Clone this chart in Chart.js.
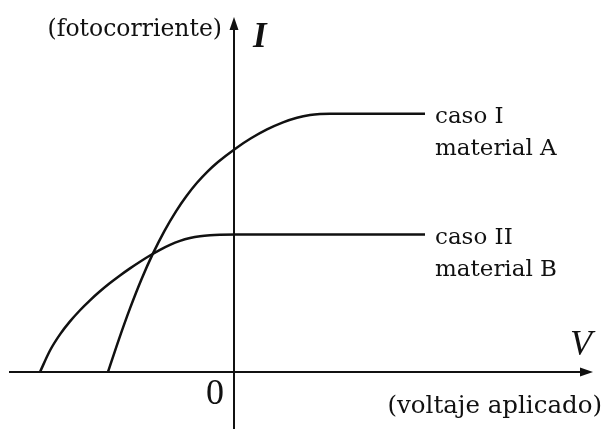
<!DOCTYPE html>
<html>
<head>
<meta charset="utf-8">
<script src="https://cdn.jsdelivr.net/npm/chart.js@4.4.0/dist/chart.umd.min.js"></script>
<style>
  html, body { margin: 0; padding: 0; background: #fff; }
  #wrap { width: 605px; height: 429px; position: relative; }
</style>
</head>
<body>
<div id="wrap"><canvas id="c"></canvas></div>
<script>
// Curve A (caso I, material A)
const V_A = [-2.52, -2.30, -2.08, -1.85, -1.62, -1.39, -1.16, -0.95, -0.74, -0.53, -0.32, 0.02, 0.34, 0.66, 0.98, 1.26, 1.52, 1.72, 1.92, 3.82];
const I_A = [0, 0.658, 1.272, 1.856, 2.372, 2.824, 3.214, 3.52, 3.784, 4.008, 4.2, 4.462, 4.674, 4.852, 4.994, 5.086, 5.14, 5.16, 5.165, 5.165];
// Curve B (caso II, material B)
const V_B = [-3.88, -3.68, -3.48, -3.28, -3.08, -2.88, -2.68, -2.48, -2.28, -2.08, -1.88, -1.68, -1.48, -1.28, -1.08, -0.88, -0.68, -0.48, -0.28, 0.04, 3.82];
const I_B = [0, 0.43, 0.752, 1.012, 1.235, 1.434, 1.614, 1.779, 1.931, 2.073, 2.206, 2.33, 2.444, 2.543, 2.622, 2.679, 2.716, 2.736, 2.745, 2.748, 2.748];
// Labels
const SERIES_LABELS = [["caso I", "material A"], ["caso II", "material B"]];
const Y_AXIS_LABEL = "(fotocorriente)";
const Y_AXIS_SYMBOL = "I";
const X_AXIS_LABEL = "(voltaje aplicado)";
const X_AXIS_SYMBOL = "V";
const ORIGIN_LABEL = "0";
// Axis extents (data units)
const X_AXIS_RANGE = [-4.5, 7.18];
const Y_AXIS_RANGE = [-1.2, 7.1];

const toPts = (xs, ys) => xs.map((x, i) => ({ x: x, y: ys[i] }));

const ink = '#111';

const axesPlugin = {
  id: 'axesPlugin',
  beforeDatasetsDraw(chart) {
    const ctx = chart.ctx;
    const xs = chart.scales.x, ys = chart.scales.y;
    const ox = xs.getPixelForValue(0), oy = ys.getPixelForValue(0);
    const x0 = xs.getPixelForValue(X_AXIS_RANGE[0]), x1 = xs.getPixelForValue(X_AXIS_RANGE[1]);
    const y0 = ys.getPixelForValue(Y_AXIS_RANGE[0]), y1 = ys.getPixelForValue(Y_AXIS_RANGE[1]);
    ctx.save();
    ctx.strokeStyle = ink; ctx.fillStyle = ink; ctx.lineWidth = 2;
    // horizontal axis
    ctx.beginPath(); ctx.moveTo(x0, oy); ctx.lineTo(x1 - 6, oy); ctx.stroke();
    ctx.beginPath(); ctx.moveTo(x1, oy); ctx.lineTo(x1 - 13, oy - 4.5); ctx.lineTo(x1 - 13, oy + 4.5); ctx.closePath(); ctx.fill();
    // vertical axis
    ctx.beginPath(); ctx.moveTo(ox, y0); ctx.lineTo(ox, y1 + 6); ctx.stroke();
    ctx.beginPath(); ctx.moveTo(ox, y1); ctx.lineTo(ox - 4.5, y1 + 13); ctx.lineTo(ox + 4.5, y1 + 13); ctx.closePath(); ctx.fill();
    ctx.restore();
  },
  afterDraw(chart) {
    const ctx = chart.ctx;
    const xs = chart.scales.x, ys = chart.scales.y;
    const ox = xs.getPixelForValue(0), oy = ys.getPixelForValue(0);
    const x1 = xs.getPixelForValue(X_AXIS_RANGE[1]);
    const y1 = ys.getPixelForValue(Y_AXIS_RANGE[1]);
    ctx.save();
    ctx.fillStyle = ink;
    ctx.textBaseline = 'alphabetic';
    // y axis label
    ctx.font = '23.5px "DejaVu Serif"';
    ctx.textAlign = 'right';
    ctx.fillText(Y_AXIS_LABEL, ox - 12, y1 + 19);
    ctx.font = 'italic bold 35px "Liberation Serif"';
    ctx.textAlign = 'left';
    ctx.fillText(Y_AXIS_SYMBOL, ox + 19, y1 + 30);
    // x axis
    ctx.textAlign = 'right';
    ctx.font = 'italic 36px "Liberation Serif"';
    ctx.fillText(X_AXIS_SYMBOL, x1 - 1, oy - 17);
    ctx.font = '24.5px "DejaVu Serif"';
    ctx.fillText(X_AXIS_LABEL, x1 + 9, oy + 41);
    // origin
    ctx.font = '36px "Liberation Serif"';
    ctx.fillText(ORIGIN_LABEL, ox - 10, oy + 32);
    // series labels
    ctx.textAlign = 'left';
    ctx.font = '23px "DejaVu Serif"';
    chart.data.datasets.forEach((ds, i) => {
      const last = ds.data[ds.data.length - 1];
      const px = xs.getPixelForValue(last.x) + 10;
      const py = ys.getPixelForValue(last.y);
      ctx.fillText(SERIES_LABELS[i][0], px, py + 9);
      ctx.fillText(SERIES_LABELS[i][1], px, py + 41);
    });
    ctx.restore();
  }
};

const bgPlugin = {
  id: 'bg',
  beforeDraw(chart) {
    const ctx = chart.ctx;
    ctx.save(); ctx.fillStyle = '#fff'; ctx.fillRect(0, 0, chart.width, chart.height); ctx.restore();
  }
};

new Chart(document.getElementById('c'), {
  type: 'scatter',
  data: {
    datasets: [
      { label: 'caso I material A', data: toPts(V_A, I_A), showLine: true, borderColor: ink, borderWidth: 2.5, pointRadius: 0, cubicInterpolationMode: 'monotone', fill: false },
      { label: 'caso II material B', data: toPts(V_B, I_B), showLine: true, borderColor: ink, borderWidth: 2.5, pointRadius: 0, cubicInterpolationMode: 'monotone', fill: false }
    ]
  },
  options: {
    responsive: true,
    maintainAspectRatio: false,
    animation: false,
    layout: { padding: 0 },
    plugins: { legend: { display: false }, tooltip: { enabled: false } },
    scales: {
      x: { type: 'linear', min: -4.68, max: 7.42, display: false },
      y: { type: 'linear', min: -1.14, max: 7.44, display: false }
    }
  },
  plugins: [bgPlugin, axesPlugin]
});
</script>
</body>
</html>
